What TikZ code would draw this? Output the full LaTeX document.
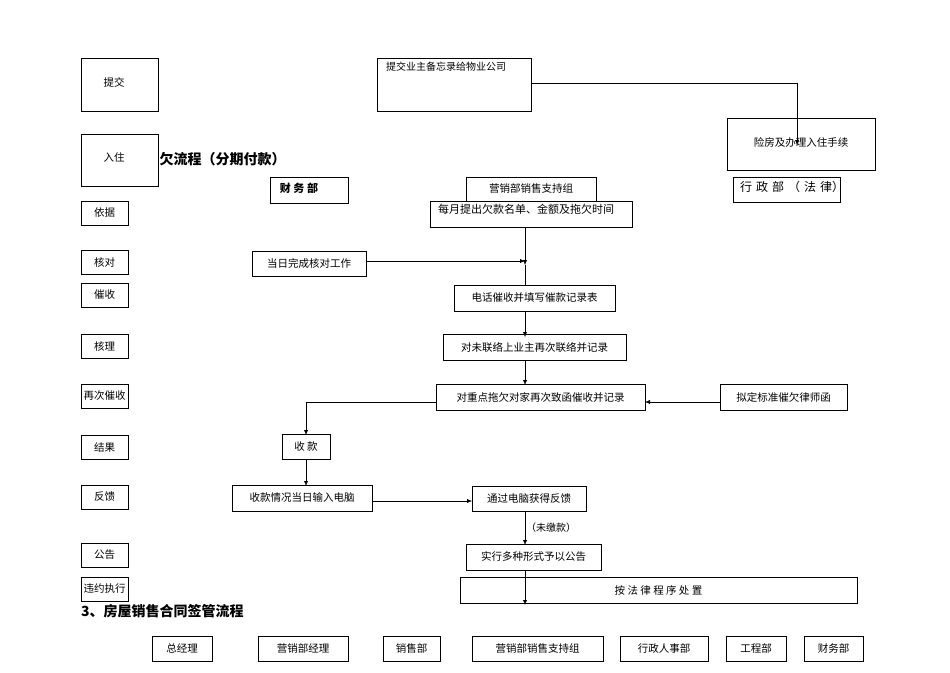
\documentclass[tikz,border=0pt]{standalone}
\usepackage{fontspec}
\usetikzlibrary{arrows.meta}
\setmainfont{Noto Sans CJK SC}
\begin{document}
\begin{tikzpicture}[x=1pt,y=-1pt,
  arr/.style={-{Latex[length=5pt,width=4pt]}},
  every node/.style={font=\fontsize{10.5}{12}\selectfont}]
\useasboundingbox (0,0) rectangle (950,672);
\newcommand{\bxx}[6]{\draw[thick] (#2,#3) rectangle (#4,#5); \node (#1) at ({(#2+#4)/2},{(#3+#5)/2}) {#6};}
% left column
\draw[thick] (81,58) rectangle (158,111); \node (tj) at (114,82) {提交};
\draw[thick] (81,134) rectangle (158,186); \node (rz) at (114,157) {入住};
\node[font=\bfseries\fontsize{14}{16}\selectfont,anchor=west] (t1) at (156,159) {欠流程（分期付款）};
\bxx{yj}{81}{201}{128}{225}{依据}
\bxx{hd}{81}{250}{128}{274}{核对}
\bxx{cs}{81}{283}{128}{307}{催收}
\bxx{hl}{81}{334}{128}{358}{核理}
\bxx{zc}{81}{384}{128}{408}{再次催收}
\bxx{jg}{81}{435}{128}{459}{结果}
\bxx{fk}{81}{485}{128}{509}{反馈}
\bxx{gg}{81}{543}{128}{567}{公告}
\bxx{wy}{81}{577}{128}{601}{违约执行}
% top
\draw[thick] (377,58) rectangle (531,111);
\node[anchor=north west,text width=148,align=left,inner sep=0pt,font=\fontsize{10}{10}\selectfont] (bw) at (386,62) {提交业主备忘录给物业公司};
\draw[thick] (727,118) rectangle (875,170); \node (yf) at (801,142) {险房及办理入住手续};
\coordinate (c1) at (797,83);
\draw[arr] (531,83) -- (c1) -- (797,145);
% headers
\draw[thick] (270,177) rectangle (348,203); \node[font=\bfseries\fontsize{11}{12}\selectfont] (cw) at (299,188) {财 务 部};
\bxx{yx}{466}{177}{596}{201}{营销部销售支持组}
\draw[thick] (733,177) rectangle (840,202);
\begin{scope}\clip (733,177) rectangle (840,202);
\node[anchor=north west,inner sep=0pt,text width=104,align=left,font=\fontsize{12}{14}\selectfont] (xz) at (740,181) {行 政 部 （ 法 律）};
\end{scope}
\draw[thick] (430,201) rectangle (632,227);
\begin{scope}\clip (430,201) rectangle (632,227);
\node[anchor=north west,inner sep=0pt,text width=196,align=left,font=\fontsize{11}{13}\selectfont] (my) at (438,204) {每月提出欠款名单、金额及拖欠时间};
\end{scope}
% flow
\bxx{hdg}{252}{251}{366}{276}{当日完成核对工作}
\bxx{dh}{454}{285}{615}{311}{电话催收并填写催款记录表}
\bxx{dw}{443}{334}{626}{360}{对未联络上业主再次联络并记录}
\bxx{dz}{436}{384}{645}{410}{对重点拖欠对家再次致函催收并记录}
\bxx{ls}{720}{384}{847}{410}{拟定标准催欠律师函}
\bxx{sk}{282}{434}{330}{459}{收 款}
\bxx{sr}{232}{485}{372}{511}{收款情况当日输入电脑}
\bxx{tg}{472}{486}{586}{511}{通过电脑获得反馈}
\bxx{sx}{466}{544}{601}{570}{实行多种形式予以公告}
\bxx{af}{460}{577}{857}{603}{按 法 律 程 序 处 置}
\draw[arr] (366,261) -- (525,261);
\draw[arr] (525,227) -- (525,265);
\draw (525,265) -- (525,285);
\draw[arr] (525,311) -- (525,337);
\draw[arr] (525,360) -- (525,385);
\draw[arr] (720,402) -- (645,402);
\coordinate (c2) at (306,402);
\draw[arr] (436,402) -- (c2) -- (306,435);
\draw[arr] (306,459) -- (306,486);
\draw[arr] (372,501) -- (472,501);
\draw[arr] (525,511) -- (525,545);
\node[font=\fontsize{10}{12}\selectfont] (wj) at (551,528) {（未缴款）};
\draw[arr] (525,570) -- (525,605);
\node[font=\bfseries\fontsize{14}{16}\selectfont,anchor=west,inner sep=0pt] (t3) at (81,611) {3、房屋销售合同签管流程};
% bottom row
\bxx{b1}{152}{636}{212}{661}{总经理}
\bxx{b2}{258}{636}{348}{661}{营销部经理}
\bxx{b3}{383}{636}{440}{661}{销售部}
\bxx{b4}{472}{636}{603}{661}{营销部销售支持组}
\bxx{b5}{620}{636}{708}{661}{行政人事部}
\bxx{b6}{726}{636}{786}{661}{工程部}
\bxx{b7}{804}{636}{863}{661}{财务部}
\end{tikzpicture}
\end{document}
